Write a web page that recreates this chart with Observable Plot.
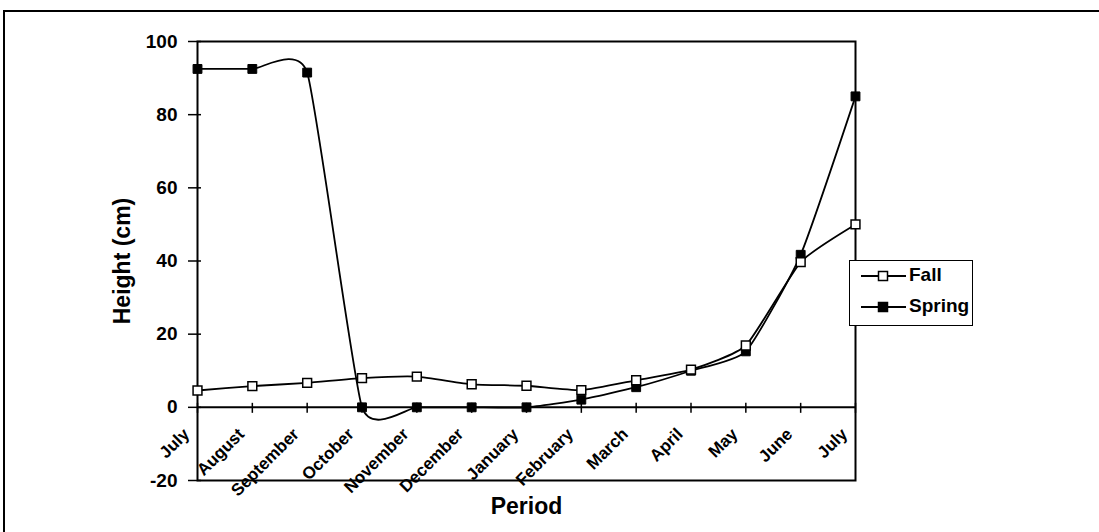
<!DOCTYPE html>
<html><head><meta charset="utf-8">
<script src="https://cdn.jsdelivr.net/npm/d3@7"></script>
<script src="https://cdn.jsdelivr.net/npm/@observablehq/plot@0.6"></script>
<style>
body{margin:0;background:#fff;}
#wrap{position:relative;width:1099px;height:532px;overflow:hidden;font-family:"Liberation Sans",Arial,sans-serif;background:#fff;}
#frame{position:absolute;left:3px;top:10px;width:1300px;height:700px;border:2px solid #000;box-sizing:border-box;pointer-events:none;}
#chart{position:absolute;left:0;top:0;}
#legend{position:absolute;left:849px;top:260px;width:124px;height:66px;border:1.5px solid #000;box-sizing:border-box;background:#fff;}
.row{position:absolute;left:0;width:122px;height:20px;}
.row svg{position:absolute;left:9px;top:0;}
.row span{position:absolute;left:59px;top:-2px;font-size:19px;font-weight:bold;line-height:22px;}
</style></head><body>
<div id="wrap"><div id="chart"></div><div id="legend"></div><div id="frame"></div></div>
<script>
const months = ["July","August","September","October","November","December","January","February","March","April","May","June","July"];
const fall   = [4.6, 5.8, 6.7, 8.0, 8.4, 6.3, 5.9, 4.7, 7.4, 10.3, 16.9, 39.7, 50];
const spring = [92.5, 92.5, 91.5, 0, 0, 0, 0, 2.1, 5.5, 10.0, 15.3, 41.7, 85];
const yTicks = [-20, 0, 20, 40, 60, 80, 100];
const seriesNames = ["Fall", "Spring"];
const seriesFill = {Fall: "#fff", Spring: "#000"};

const idx = months.map((_, i) => i);
const data = idx.flatMap(i => [
  {i, series: "Fall", v: fall[i]},
  {i, series: "Spring", v: spring[i]}
]);

const chart = Plot.plot({
  width: 1099, height: 532,
  marginLeft: 197, marginRight: 244, marginTop: 41, marginBottom: 52,
  x: {domain: [0, 12], axis: null},
  y: {domain: [-20, 100], axis: null},
  style: {fontFamily: '"Liberation Sans", Arial, sans-serif', color: "#000", background: "transparent", overflow: "visible"},
  marks: [
    Plot.frame({stroke: "#000", strokeWidth: 2}),
    Plot.ruleY([0], {stroke: "#000", strokeWidth: 2}),
    Plot.ruleX(idx, {x: d => d, y1: () => 0, y2: () => 0, insetTop: -4, insetBottom: -6, stroke: "#000", strokeWidth: 1.5}),
    Plot.axisY(yTicks, {tickSize: 13, dx: 4, tickPadding: 11, fontSize: 19, fontWeight: "bold", label: null, strokeWidth: 1.5, tickFormat: d => String(d)}),
    Plot.text(idx, {x: d => d, y: () => 0, text: d => months[d], rotate: -45, textAnchor: "end", dx: -11, dy: 24, fontSize: 17, fontWeight: "bold"}),
    Plot.line(data, {x: "i", y: "v", z: "series", curve: "cardinal", tension: 0.5, stroke: "#000", strokeWidth: 1.8}),
    Plot.dot(data.filter(d => d.series === "Spring"), {x: "i", y: "v", symbol: "square", r: 5, fill: "#000", stroke: "#000", strokeWidth: 1}),
    Plot.dot(data.filter(d => d.series === "Fall"), {x: "i", y: "v", symbol: "square", r: 5, fill: "#fff", stroke: "#000", strokeWidth: 1.5}),
    Plot.text(["Height (cm)"], {frameAnchor: "left", text: d => d, rotate: -90, textAnchor: "middle", dx: -75, fontSize: 23, fontWeight: "bold"}),
    Plot.text(["Period"], {frameAnchor: "bottom", text: d => d, textAnchor: "middle", dy: 33, fontSize: 23, fontWeight: "bold"})
  ]
});
document.getElementById("chart").appendChild(chart);

const legend = document.getElementById("legend");
seriesNames.forEach((name, k) => {
  const row = document.createElement("div");
  row.className = "row";
  row.style.top = (k === 0 ? 5 : 36) + "px";
  row.innerHTML = `<svg width="48" height="20"><line x1="2" y1="10" x2="47" y2="10" stroke="#000" stroke-width="1.8"/><rect x="19.5" y="5.5" width="9" height="9" fill="${seriesFill[name]}" stroke="#000" stroke-width="1.5"/></svg><span>${name}</span>`;
  legend.appendChild(row);
});
</script>
</body></html>
